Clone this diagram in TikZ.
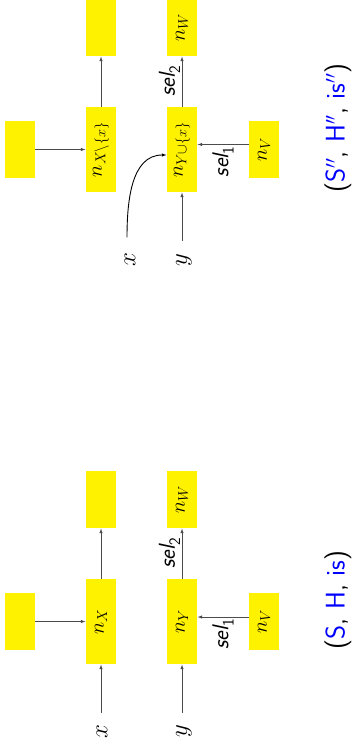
\documentclass[tikz,border=0pt]{standalone}
\usetikzlibrary{arrows.meta}
\definecolor{boxyellow}{RGB}{255,242,0}
\definecolor{lblue}{RGB}{0,0,255}
\begin{document}
\begin{tikzpicture}[x=1pt,y=1pt,
  box/.style={fill=boxyellow, rotate=90, minimum height=30pt, inner sep=0pt, font=\fontsize{22}{26}\selectfont},
  longbox/.style={box, minimum width=85pt},
  shortbox/.style={box, minimum width=57pt},
  var/.style={rotate=90, inner sep=0pt, font=\fontsize{26}{30}\selectfont},
  conn/.style={draw=black!70, line width=0.9pt, -{Latex[length=5pt,width=3.5pt]}},
  sellbl/.style={rotate=90, inner sep=1.5pt, font=\fontsize{23}{26}\selectfont\sffamily\itshape},
  tuple/.style={rotate=90, inner sep=0pt, font=\fontsize{27}{32}\selectfont\sffamily}
]
\useasboundingbox (0,0) rectangle (354,-751);

% ---- bottom diagram (S, H, is)
\node[shortbox] (bL) at (20,-621.5) {};
\node[longbox]  (bX) at (101,-621.5) {$n_X$};
\node[shortbox] (bR) at (101,-499.5) {};
\node[longbox]  (bY) at (182,-621.5) {$n_Y$};
\node[shortbox] (bW) at (182,-499.5) {$n_W$};
\node[shortbox] (bV) at (264,-621.5) {$n_V$};
\node[var] (bx) at (102,-731.5) {$x$};
\node[var] (by) at (184,-731) {$y$};

\draw[conn, shorten <=11pt] (bX |- bx.east) -- (bX.west);
\draw[conn, shorten <=11pt] (bY |- by.east) -- (bY.west);
\draw[conn] (bL.south) -- (bX.north);
\draw[conn] (bX.east) -- (bR.west);
\draw[conn] (bY.east) -- (bW.west) node[sellbl, midway, anchor=south] {sel\raisebox{-0.22em}{\upshape\scalebox{0.7}{2}}};
\draw[conn] ([yshift=4.5pt]bV.north) -- ([yshift=4.5pt]bY.south) node[sellbl, midway, anchor=east] {sel\raisebox{-0.22em}{\upshape\scalebox{0.7}{1}}};

\node[tuple] (bT) at (338,-600) {(\textcolor{lblue}{S}, \textcolor{lblue}{H}, \textcolor{lblue}{is})};

% ---- top diagram (S'', H'', is'')
\node[shortbox] (tL) at (20,-149.5) {};
\node[longbox]  (tX) at (101,-149.5) {$n_{X\setminus\{x\}}$};
\node[shortbox] (tR) at (101,-27.5) {};
\node[longbox]  (tY) at (182,-149.5) {$n_{Y\cup\{x\}}$};
\node[shortbox] (tW) at (182,-27.5) {$n_W$};
\node[shortbox] (tV) at (264,-149.5) {$n_V$};
\node[var] (tx) at (130,-260) {$x$};
\node[var] (ty) at (184,-260) {$y$};

\draw[conn, draw=black] ([xshift=-3pt,yshift=15.5pt]tx.east) to[out=90,in=180] ([yshift=-5.5pt]tY.north);
\draw[conn, shorten <=12.5pt] (tY |- ty.east) -- (tY.west);
\draw[conn] (tL.south) -- (tX.north);
\draw[conn] (tX.east) -- (tR.west);
\draw[conn] (tY.east) -- (tW.west) node[sellbl, midway, anchor=south] {sel\raisebox{-0.22em}{\upshape\scalebox{0.7}{2}}};
\draw[conn] ([yshift=5pt]tV.north) -- ([yshift=5pt]tY.south) node[sellbl, midway, anchor=east] {sel\raisebox{-0.22em}{\upshape\scalebox{0.7}{1}}};

\node[tuple] (tT) at (338,-128) {(\textcolor{lblue}{S$''$}, \textcolor{lblue}{H$''$}, \textcolor{lblue}{is$''$})};
\end{tikzpicture}
\end{document}
